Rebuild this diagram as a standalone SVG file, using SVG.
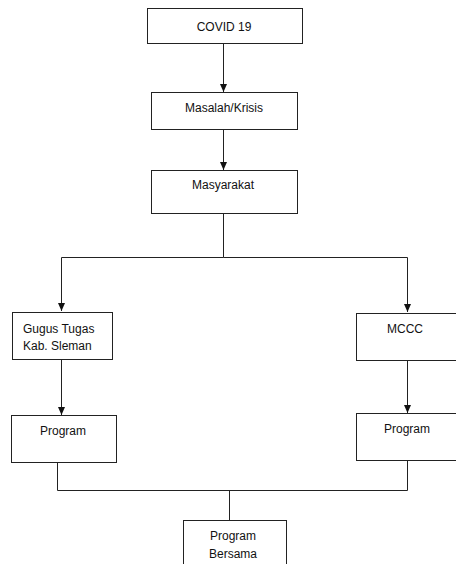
<svg xmlns="http://www.w3.org/2000/svg" width="456" height="564" viewBox="0 0 456 564">
<style>
.box{fill:#fff;stroke:#222;stroke-width:1}
.t{font-family:"Liberation Sans",Arial,sans-serif;font-size:12px;fill:#111}
.c{text-anchor:middle}
.ln{fill:none;stroke:#222;stroke-width:1}
</style>
<defs>
<marker id="ah" viewBox="0 0 8 8" refX="8" refY="4" markerWidth="8" markerHeight="8" markerUnits="userSpaceOnUse" orient="auto">
<path d="M0,0.5 L8,4 L0,7.5 Z" fill="#111"/>
</marker>
</defs>
<rect width="456" height="564" fill="#fff"/>
<g id="connectors">
<line class="ln" x1="223.5" y1="43.5" x2="223.5" y2="92" marker-end="url(#ah)"/>
<line class="ln" x1="223.5" y1="129.5" x2="223.5" y2="170" marker-end="url(#ah)"/>
<polyline class="ln" points="223.5,213.5 223.5,257.5 61.5,257.5 61.5,311" marker-end="url(#ah)"/>
<polyline class="ln" points="223.5,257.5 407.5,257.5 407.5,312" marker-end="url(#ah)"/>
<line class="ln" x1="61.5" y1="359.5" x2="61.5" y2="415" marker-end="url(#ah)"/>
<line class="ln" x1="407.5" y1="360.5" x2="407.5" y2="413" marker-end="url(#ah)"/>
<polyline class="ln" points="57.5,462.5 57.5,490.5 407.5,490.5 407.5,460.5"/>
<line class="ln" x1="229.5" y1="490.5" x2="229.5" y2="520.5"/>
</g>
<g id="covid">
<rect class="box" x="147.5" y="8.5" width="155" height="35"/>
<text class="t c" x="224" y="31">COVID 19</text>
</g>
<g id="masalah">
<rect class="box" x="151.5" y="92.5" width="146" height="37"/>
<text class="t c" x="224" y="112">Masalah/Krisis</text>
</g>
<g id="masyarakat">
<rect class="box" x="151.5" y="170.5" width="146" height="43"/>
<text class="t c" x="223" y="189">Masyarakat</text>
</g>
<g id="gugus">
<rect class="box" x="12.5" y="312.5" width="100" height="47"/>
<text class="t" x="23" y="333">Gugus Tugas</text>
<text class="t" x="23" y="350">Kab. Sleman</text>
</g>
<g id="mccc">
<rect class="box" x="356.5" y="313.5" width="110" height="47"/>
<text class="t c" x="405" y="333">MCCC</text>
</g>
<g id="program-left">
<rect class="box" x="11.5" y="415.5" width="105" height="47"/>
<text class="t c" x="63" y="435">Program</text>
</g>
<g id="program-right">
<rect class="box" x="356.5" y="413.5" width="110" height="47"/>
<text class="t c" x="407" y="433">Program</text>
</g>
<g id="program-bersama">
<rect class="box" x="183.5" y="520.5" width="103" height="60"/>
<text class="t c" x="233" y="540">Program</text>
<text class="t c" x="233" y="558">Bersama</text>
</g>
</svg>
